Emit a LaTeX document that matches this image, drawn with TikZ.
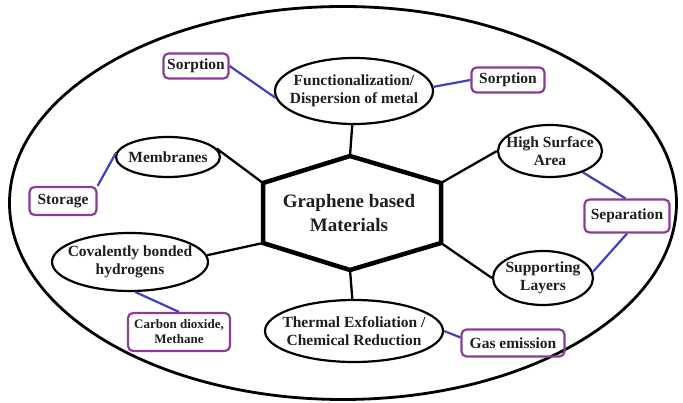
\documentclass[tikz,border=0pt]{standalone}
\usepackage{fontspec}
\setmainfont{Liberation Serif}
\usetikzlibrary{shapes.geometric}
\definecolor{bl}{RGB}{65,65,190}
\definecolor{pu}{RGB}{140,60,150}
\definecolor{tx}{RGB}{30,30,30}
\begin{document}
\begin{tikzpicture}[x=1pt,y=-1pt,
 ell/.style={draw=black, line width=2.2pt, ellipse, inner sep=0pt},
 lbl/.style={font=\bfseries\fontsize{15.5}{18.5}\selectfont, align=center, inner sep=0pt, text=tx},
 box/.style={draw=pu, line width=2.2pt, rounded corners=5pt, inner sep=0pt, text=tx, align=center, font=\bfseries\fontsize{15.5}{17}\selectfont},
 blk/.style={draw=black, line width=2.3pt},
 blu/.style={draw=bl, line width=2.2pt}]
\useasboundingbox (0,0) rectangle (683,403);
% outer ellipse
\node[draw, ellipse, line width=2.8pt, minimum width=667pt, minimum height=393pt] (outer) at (343,203) {};
% hexagon
\coordinate (h1) at (350,156);
\coordinate (h2) at (441,183);
\coordinate (h3) at (441,243);
\coordinate (h4) at (350,270);
\coordinate (h5) at (263,243);
\coordinate (h6) at (263,183);
\draw[line width=4.5pt, line join=miter] (h1)--(h2)--(h3)--(h4)--(h5)--(h6)--cycle;
\node[lbl, font=\bfseries\fontsize{19}{24}\selectfont] (gtext) at (349,213) {Graphene based\\Materials};
% ellipses
\node[ell, minimum width=158pt, minimum height=66pt] (fun) at (354,91) {};
\node[lbl] (funt) at (fun) {Functionalization/\\Dispersion of metal};
\node[ell, minimum width=104pt, minimum height=40pt] (mem) at (168,157) {};
\node[lbl] (memt) at (mem) {Membranes};
\node[ell, minimum width=156pt, minimum height=58pt] (cov) at (130,262) {};
\node[lbl] (covt) at (cov) {Covalently bonded\\hydrogens};
\node[ell, minimum width=104pt, minimum height=52pt] (hsa) at (550,151) {};
\node[lbl] (hsat) at (hsa) {High Surface\\Area};
\node[ell, minimum width=100pt, minimum height=54pt] (sup) at (543,278) {};
\node[lbl] (supt) at (sup) {Supporting\\Layers};
\node[ell, minimum width=178pt, minimum height=62pt] (therm) at (354,331) {};
\node[lbl] (thermt) at (therm) {Thermal Exfoliation /\\Chemical Reduction};
% boxes
\node[box, minimum width=65pt, minimum height=25pt] (sorpL) at (196,66) {Sorption};
\node[box, minimum width=73pt, minimum height=25pt] (sorpR) at (508,80) {Sorption};
\node[box, minimum width=67pt, minimum height=28pt] (stor) at (63,201) {Storage};
\node[box, minimum width=102pt, minimum height=38pt, font=\bfseries\fontsize{13}{15}\selectfont] (carb) at (179,332) {Carbon dioxide,\\Methane};
\node[box, minimum width=85pt, minimum height=33pt] (sep) at (627,216) {Separation};
\node[box, minimum width=103pt, minimum height=27pt] (gas) at (513,343) {Gas emission};
% black connectors
\draw[blk] (h1) -- (fun.-93);
\draw[blk] (h4) -- (therm.93);
\draw[blk] (h6) -- (mem.10);
\draw[blk] (h5) -- (cov.5);
\draw[blk] (h2) -- (hsa.west);
\draw[blk] (h3) -- (sup.west);
% blue connectors
\draw[blu] (sorpL.east) -- (fun.185);
\draw[blu] (fun.3) -- (sorpR.west);
\draw[blu] (stor.north east) -- (mem.175);
\draw[blu] (cov.-80) -- (carb.north);
\draw[blu] (hsa.-33) -- (sep.95);
\draw[blu] (sep.south) -- (sup.7);
\draw[blu] (therm.east) -- (gas.174);
\end{tikzpicture}
\end{document}
